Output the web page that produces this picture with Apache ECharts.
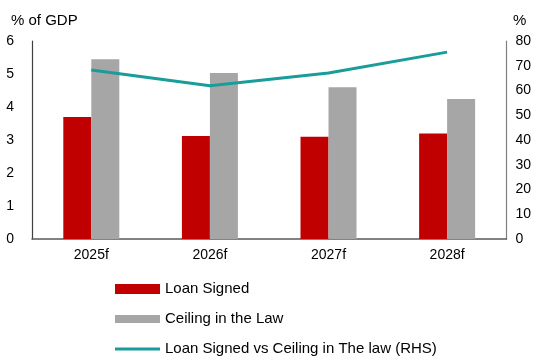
<!DOCTYPE html>
<html>
<head>
<meta charset="utf-8">
<script src="https://cdn.jsdelivr.net/npm/echarts@6/dist/echarts.min.js"></script>
<style>
  html, body { margin: 0; padding: 0; background: #fff; }
  #chart { width: 534px; height: 361px; }
</style>
</head>
<body>
<div id="chart"></div>
<script>
// Years on the category axis
const categories = ['2025f', '2026f', '2027f', '2028f'];
// Left axis: % of GDP
const loanSigned = [3.7, 3.12, 3.1, 3.2];
const ceilingInLaw = [5.45, 5.03, 4.6, 4.24];
// Right axis: loans signed as a share of the legal ceiling, %
const loanVsCeiling = [68.3, 61.9, 67.1, 75.5];

const seriesNames = ['Loan Signed', 'Ceiling in the Law', 'Loan Signed vs Ceiling in The law (RHS)'];

const FONT = 'Liberation Sans, Arial, sans-serif';
const RED = '#c00000';
const GREY = '#a6a6a6';
const TEAL = '#1a9c9a';

const chart = echarts.init(document.getElementById('chart'), null, { renderer: 'canvas' });

function legendAt(top, name, color, h) {
  return {
    orient: 'vertical',
    left: 115,
    top: top,
    padding: 0,
    itemWidth: 45,
    itemHeight: h,
    itemGap: 0,
    selectedMode: false,
    textStyle: { fontFamily: FONT, fontSize: 15, color: '#000', lineHeight: 16 },
    data: [{ name: name, icon: 'rect', itemStyle: { color: color } }]
  };
}

chart.setOption({
  animation: false,
  backgroundColor: '#fff',
  textStyle: { fontFamily: FONT },
  grid: { left: 32, right: 27, top: 41, bottom: 122, containLabel: false },
  title: [
    { text: '% of GDP', left: 6, top: 8, textStyle: { fontFamily: FONT, fontSize: 15, fontWeight: 'normal', color: '#000' } },
    { text: '%', left: 508, top: 8, textStyle: { fontFamily: FONT, fontSize: 15, fontWeight: 'normal', color: '#000' } }
  ],
  legend: [
    legendAt(281, seriesNames[0], RED, 10),
    legendAt(311, seriesNames[1], GREY, 8),
    legendAt(341, seriesNames[2], TEAL, 3)
  ],
  xAxis: {
    type: 'category',
    data: categories,
    axisLine: { lineStyle: { color: '#595959', width: 1.5 } },
    axisTick: { show: false },
    axisLabel: { fontFamily: FONT, fontSize: 14, color: '#000', margin: 9 }
  },
  yAxis: [
    {
      type: 'value', min: 0, max: 6, interval: 1,
      axisLine: { show: true, lineStyle: { color: '#404040', width: 1.2 } },
      axisTick: { show: false },
      splitLine: { show: false },
      axisLabel: { fontFamily: FONT, fontSize: 14, color: '#000', margin: 18 }
    },
    {
      type: 'value', min: 0, max: 80, interval: 10,
      position: 'right',
      axisLine: { show: true, lineStyle: { color: '#808080', width: 1.2 } },
      axisTick: { show: false },
      splitLine: { show: false },
      axisLabel: { fontFamily: FONT, fontSize: 14, color: '#000', margin: 9 }
    }
  ],
  series: [
    {
      name: seriesNames[0], type: 'bar', yAxisIndex: 0,
      data: loanSigned, barWidth: 28, barGap: '0%',
      itemStyle: { color: RED }
    },
    {
      name: seriesNames[1], type: 'bar', yAxisIndex: 0,
      data: ceilingInLaw, barWidth: 28, barGap: '0%',
      itemStyle: { color: GREY }
    },
    {
      name: seriesNames[2], type: 'line', yAxisIndex: 1,
      data: loanVsCeiling, symbol: 'none',
      lineStyle: { color: TEAL, width: 3 },
      itemStyle: { color: TEAL }
    }
  ]
});
</script>
</body>
</html>
